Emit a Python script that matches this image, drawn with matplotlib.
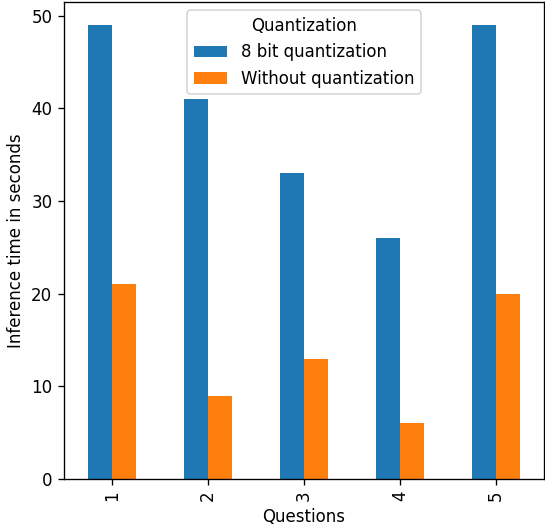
import pandas as pd
import matplotlib.pyplot as plt

questions = [1, 2, 3, 4, 5]
quant_8bit = [49, 41, 33, 26, 49]
no_quant = [21, 9, 13, 6, 20]

df = pd.DataFrame({'8 bit quantization': quant_8bit,
                   'Without quantization': no_quant}, index=questions)

fig, ax = plt.subplots(figsize=(545 / 120, 527 / 120), dpi=120)
df.plot.bar(ax=ax)
ax.set_xlabel('Questions')
ax.set_ylabel('Inference time in seconds')
ax.legend(title='Quantization', loc='upper center')
fig.subplots_adjust(left=0.1174, right=0.998, bottom=0.091, top=0.996)
fig.savefig('out.png', dpi=120)
